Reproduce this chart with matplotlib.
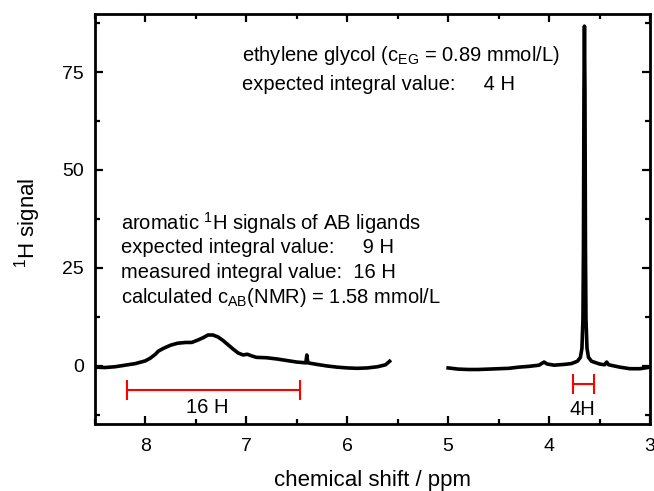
import matplotlib
matplotlib.use("Agg")
import matplotlib.pyplot as plt
from matplotlib.ticker import MultipleLocator

plt.rcParams['font.family'] = ['Liberation Sans', 'DejaVu Sans']
plt.rcParams['mathtext.fontset'] = 'custom'
plt.rcParams['mathtext.rm'] = 'Liberation Sans'
plt.rcParams['mathtext.it'] = 'Liberation Sans:italic'
plt.rcParams['mathtext.default'] = 'regular'

# aromatic region (8.5 - 5.58 ppm)
ppm_arom = [8.50, 8.40, 8.30, 8.20, 8.10, 8.00, 7.95, 7.90, 7.87, 7.82, 7.75, 7.68,
            7.60, 7.54, 7.48, 7.42, 7.38, 7.33, 7.28, 7.23, 7.18, 7.13, 7.08, 7.03,
            6.99, 6.95, 6.90, 6.80, 6.70, 6.60, 6.50, 6.41, 6.40, 6.39, 6.30, 6.20,
            6.10, 6.00, 5.90, 5.80, 5.70, 5.62, 5.58]
sig_arom = [-0.3, -0.4, -0.2, 0.2, 0.6, 1.3, 2.0, 3.0, 3.8, 4.5, 5.3, 5.8,
            6.0, 6.0, 6.6, 7.3, 7.9, 7.9, 7.4, 6.5, 5.4, 4.3, 3.3, 2.8,
            3.0, 2.6, 2.2, 2.1, 1.8, 1.4, 1.0, 0.8, 2.8, 0.8, 0.4, 0.0,
            -0.3, -0.5, -0.6, -0.5, -0.2, 0.3, 1.2]

# aliphatic region (5.0 - 3.0 ppm)
ppm_aliph = [5.00, 4.90, 4.80, 4.70, 4.60, 4.50, 4.40, 4.30, 4.20, 4.10, 4.05, 4.02,
             3.95, 3.85, 3.78, 3.72, 3.69, 3.675, 3.665, 3.66, 3.655, 3.65, 3.645,
             3.64, 3.635, 3.625, 3.61, 3.58, 3.50, 3.45, 3.43, 3.41, 3.30, 3.20,
             3.10, 3.05, 3.00]
sig_aliph = [-0.5, -0.8, -0.9, -0.9, -0.8, -0.7, -0.6, -0.3, -0.1, 0.2, 1.0, 0.5,
             0.2, 0.4, 0.6, 1.2, 2.2, 4.5, 12.0, 30.0, 70.0, 86.7, 70.0,
             30.0, 12.0, 4.5, 2.2, 1.2, 0.5, 0.3, 1.0, 0.3, -0.3, -0.7,
             -0.7, -0.5, -0.3]

# integration ranges
int_ranges = [(8.186, 6.47), (3.76, 3.56)]
int_y = [-6.1, -4.7]
int_labels = ['16 H', '4H']
int_label_x = [7.39, 3.67]
int_label_y = [-10.7, -11.2]

fig = plt.figure(figsize=(6.54, 4.91), dpi=100)
ax = fig.add_axes([0.145, 0.1365, 0.849, 0.835])

ax.plot(ppm_arom, sig_arom, color='black', lw=2.6, solid_joinstyle='round')
ax.plot(ppm_aliph, sig_aliph, color='black', lw=2.6, solid_joinstyle='round')

for (a, b), yy, lab, lx, ly in zip(int_ranges, int_y, int_labels, int_label_x, int_label_y):
    c = (a + b) / 2
    h = abs(a - b) / 2
    ax.errorbar([c], [yy], xerr=[h], color='red', lw=1.5, capsize=7, capthick=1.5, fmt='none')
    ax.text(lx, ly, lab, ha='center', va='center', fontsize=14.5)

ax.set_xlim(8.5, 3.0)
ax.set_ylim(-14.8, 89.8)
ax.xaxis.set_major_locator(MultipleLocator(1))
ax.xaxis.set_minor_locator(MultipleLocator(0.5))
ax.yaxis.set_major_locator(MultipleLocator(25))
ax.yaxis.set_minor_locator(MultipleLocator(12.5))
ax.tick_params(which='both', direction='in', top=True, right=True, width=1.6, labelsize=14)
ax.tick_params(which='major', length=6)
ax.tick_params(which='minor', length=3.5)
ax.tick_params(axis='x', pad=10)
ax.tick_params(axis='y', pad=8)
for s in ax.spines.values():
    s.set_linewidth(2)

ax.set_xlabel('chemical shift / ppm', fontsize=16)
ax.set_ylabel('$^{1}$H signal', fontsize=16)
ax.xaxis.set_label_coords(0.5, -0.113)
ax.yaxis.set_label_coords(-0.094, 0.49)

ax.text(0.265, 0.898, 'ethylene glycol (c$_{EG}$ = 0.89 mmol/L)', transform=ax.transAxes,
        fontsize=14.5, va='center', ha='left')
ax.text(0.265, 0.829, 'expected integral value:     4 H', transform=ax.transAxes,
        fontsize=14.5, va='center', ha='left')

left_lines = ['aromatic $^{1}$H signals of AB ligands',
              'expected integral value:     9 H',
              'measured integral value:  16 H',
              'calculated c$_{AB}$(NMR) = 1.58 mmol/L']
for i, t in enumerate(left_lines):
    ax.text(0.047, (424 - 223 - 25 * i) / 410, t, transform=ax.transAxes,
            fontsize=14.5, va='center', ha='left')

fig.savefig('out.png', dpi=100)
